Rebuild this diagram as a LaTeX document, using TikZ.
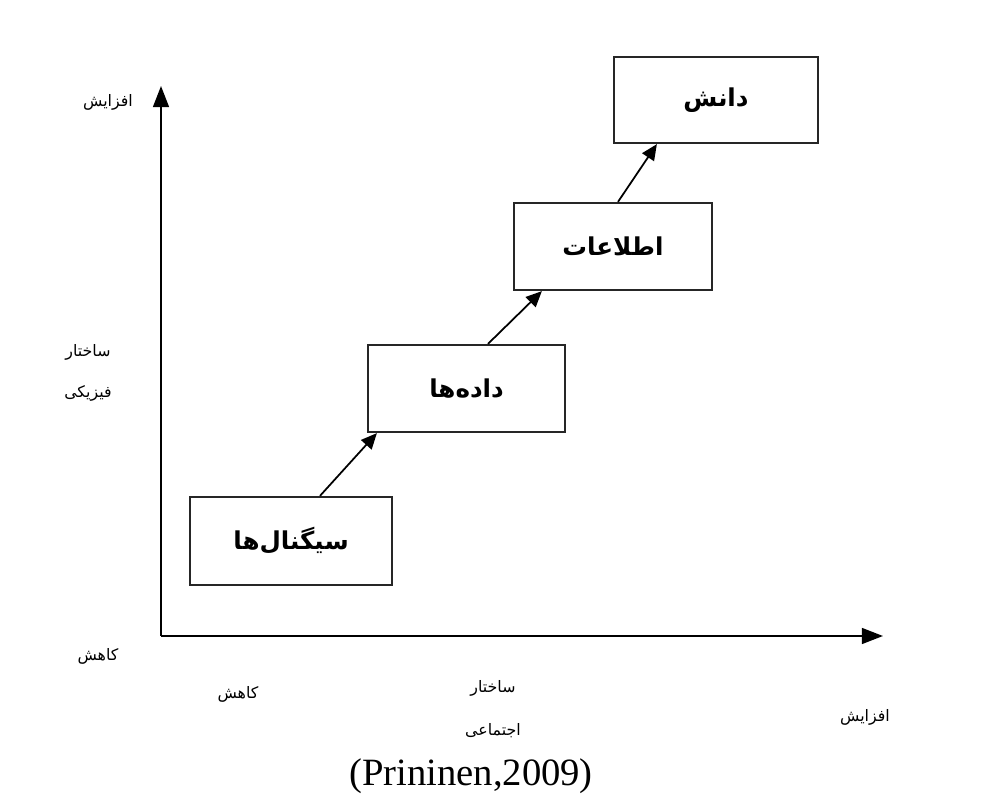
\documentclass[tikz,border=0pt]{standalone}
\usepackage{fontspec}
\setmainfont{Liberation Serif}
\newfontfamily\arabicfont[Script=Arabic]{DejaVu Sans}
\TeXXeTstate=1
\usetikzlibrary{arrows.meta,calc}
\begin{document}
\begin{tikzpicture}[x=0.02cm,y=-0.02cm,
  stagebox/.style={draw=black!85,line width=1.3pt,minimum width=4cm,minimum height=1.74cm,inner sep=0pt,font=\arabicfont\bfseries\fontsize{14}{16}\selectfont},
  axislbl/.style={font=\arabicfont\fontsize{9}{11}\selectfont,inner sep=1pt},
  flow/.style={line width=1pt,-{Triangle[length=9pt,width=8pt]}},
  axis/.style={line width=1.1pt,-{Triangle[length=12pt,width=9pt]}}]
\useasboundingbox (0,0) rectangle (1005,800);
\node[stagebox,minimum width=4.04cm,minimum height=1.76cm] (s) at (291,541) {\beginR سیگنال‌ها\endR};
\node[stagebox,minimum width=3.94cm] (d) at (466.5,388.5) {\beginR داده‌ها\endR};
\node[stagebox,minimum width=3.96cm] (i) at (613,246.5) {\beginR اطلاعات\endR};
\node[stagebox,minimum width=4.08cm,minimum height=1.72cm] (k) at (716,100) {\beginR دانش\endR};
\draw[flow] ($(s.north)+(29,0)$) -- ($(d.south west)+(10,0)$);
\draw[flow] ($(d.north)+(21.5,0)$) -- ($(i.south west)+(29,0)$);
\draw[flow] ($(i.north)+(5,0)$) -- ($(k.south west)+(44,0)$);
\coordinate (o) at (161,636);
\coordinate (ytop) at (161,86);
\coordinate (xend) at (883,636);
\draw[axis] (o) -- (ytop);
\draw[axis] (o) -- (xend);
\node[axislbl] (y1) at (108,102) {\beginR افزایش\endR};
\node[axislbl] (y2) at (88,352) {\beginR ساختار\endR};
\node[axislbl] (y3) at (88,393) {\beginR فیزیکی\endR};
\node[axislbl] (y4) at (98,656) {\beginR کاهش\endR};
\node[axislbl] (x1) at (238,694) {\beginR کاهش\endR};
\node[axislbl] (x2) at (493,688) {\beginR ساختار\endR};
\node[axislbl] (x3) at (493,731) {\beginR اجتماعی\endR};
\node[axislbl] (x4) at (865,717) {\beginR افزایش\endR};
\node[font=\fontsize{22}{26}\selectfont] (cite) at (471,776) {(Prininen,2009)};
\end{tikzpicture}
\end{document}
